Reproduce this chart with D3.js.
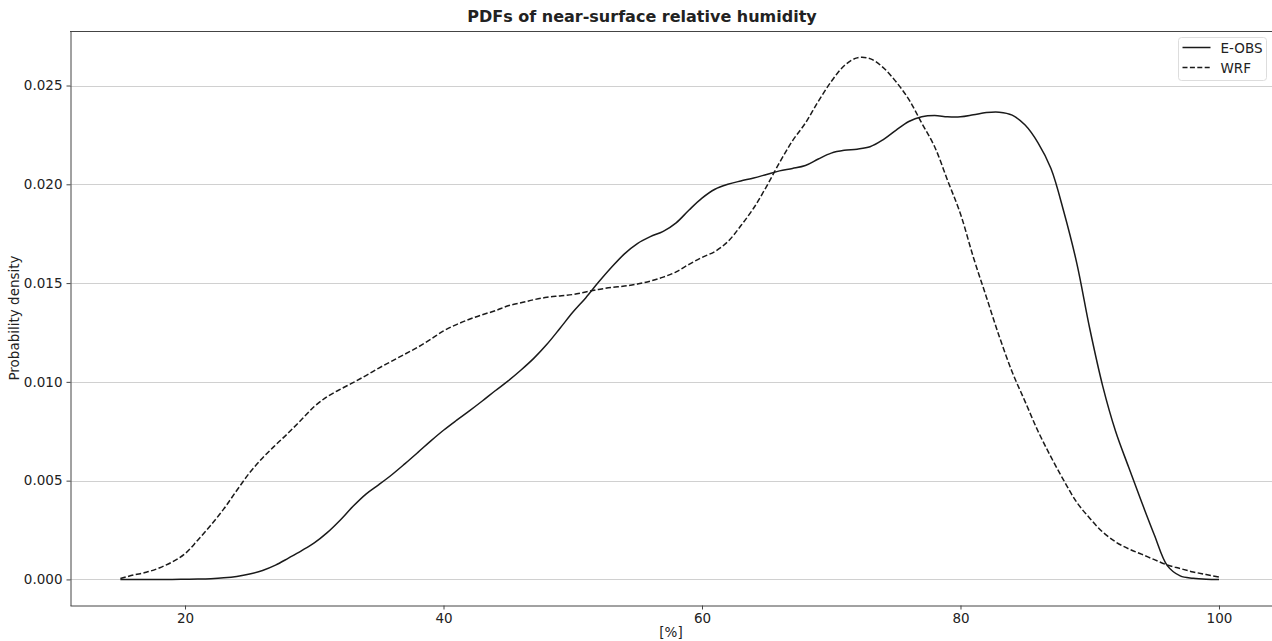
<!DOCTYPE html>
<html>
<head>
<meta charset="utf-8">
<script src="https://cdn.jsdelivr.net/npm/d3@7"></script>
<style>
  body { margin: 0; background: #fff; }
  text { font-family: "DejaVu Sans", sans-serif; fill: #222; }
</style>
</head>
<body>
<script>
// relative humidity bins [%]
var humidity = d3.range(15, 101);

var eobs = [
  0.00000, 0.00000, 0.00000, 0.00000, 0.00000, 0.00001, 0.00002, 0.00004, 0.00008, 0.00015,
  0.00027, 0.00045, 0.00072, 0.00108, 0.00145, 0.00185, 0.00237, 0.00300, 0.00370, 0.00432,
  0.00480, 0.00530, 0.00585, 0.00642, 0.00700, 0.00755, 0.00805, 0.00853, 0.00903, 0.00955,
  0.01005, 0.01060, 0.01120, 0.01190, 0.01270, 0.01352, 0.01425, 0.01505, 0.01580, 0.01648,
  0.01700, 0.01735, 0.01762, 0.01805, 0.01870, 0.01930, 0.01975, 0.02000, 0.02017, 0.02032,
  0.02050, 0.02068, 0.02080, 0.02095, 0.02128, 0.02158, 0.02172, 0.02178, 0.02190, 0.02225,
  0.02273, 0.02318, 0.02342, 0.02348, 0.02342, 0.02342, 0.02352, 0.02363, 0.02365, 0.02350,
  0.02300, 0.02210, 0.02080, 0.01860, 0.01600, 0.01270, 0.00980, 0.00750, 0.00570, 0.00394,
  0.00225, 0.00070, 0.00018, 0.00006, 0.00001, 0.00000
];

var wrf = [
  0.00005, 0.00022, 0.00036, 0.00058, 0.00088, 0.00130, 0.00200, 0.00275, 0.00357, 0.00450,
  0.00540, 0.00615, 0.00680, 0.00742, 0.00808, 0.00875, 0.00925, 0.00962, 0.00996, 0.01032,
  0.01070, 0.01105, 0.01140, 0.01175, 0.01215, 0.01258, 0.01290, 0.01317, 0.01340, 0.01360,
  0.01385, 0.01400, 0.01416, 0.01428, 0.01435, 0.01442, 0.01455, 0.01468, 0.01478, 0.01485,
  0.01495, 0.01510, 0.01530, 0.01557, 0.01595, 0.01630, 0.01660, 0.01710, 0.01790, 0.01880,
  0.01990, 0.02110, 0.02220, 0.02310, 0.02420, 0.02520, 0.02600, 0.02640, 0.02636, 0.02592,
  0.02520, 0.02430, 0.02310, 0.02190, 0.02020, 0.01850, 0.01630, 0.01430, 0.01230, 0.01050,
  0.00900, 0.00750, 0.00620, 0.00500, 0.00390, 0.00310, 0.00240, 0.00190, 0.00155, 0.00128,
  0.00100, 0.00073, 0.00055, 0.00038, 0.00025, 0.00012
];

var xTicks = [20, 40, 60, 80, 100];
var yTicks = [0.000, 0.005, 0.010, 0.015, 0.020, 0.025];
var seriesNames = ["E-OBS", "WRF"];

var width = 1272,
    height = 641;

var x = d3.scaleLinear().domain([11.1, 105]).range([70, 1283.6]);
var y = d3.scaleLinear().domain([-0.00132, 0.02776]).range([605.5, 31]);

var svg = d3.select("body").append("svg")
    .attr("width", width)
    .attr("height", height);

// grid
svg.append("g")
    .selectAll("line")
    .data(yTicks)
  .enter().append("line")
    .attr("x1", 70).attr("x2", width)
    .attr("y1", d => Math.round(y(d)) + 0.5)
    .attr("y2", d => Math.round(y(d)) + 0.5)
    .attr("stroke", "#d0d0d0")
    .attr("stroke-width", 1);

var line = d3.line()
    .x((d, i) => x(humidity[i]))
    .y(d => y(Math.max(d, 0)))
    .curve(d3.curveCatmullRom.alpha(0.5));

svg.append("path")
    .datum(eobs)
    .attr("d", line)
    .attr("fill", "none")
    .attr("stroke", "#1a1a1a")
    .attr("stroke-width", 1.5);

svg.append("path")
    .datum(wrf)
    .attr("d", line)
    .attr("fill", "none")
    .attr("stroke", "#1a1a1a")
    .attr("stroke-width", 1.5)
    .attr("stroke-dasharray", "5.5,2.4");

// axes
var xAxis = svg.append("g")
    .attr("transform", "translate(0,605.5)")
    .call(d3.axisBottom(x).tickValues(xTicks).tickSizeInner(4).tickSizeOuter(0)
      .tickPadding(4).tickFormat(d3.format("d")));

var yAxis = svg.append("g")
    .attr("transform", "translate(70.5,0)")
    .call(d3.axisLeft(y).tickValues(yTicks).tickSizeInner(4).tickSizeOuter(0)
      .tickPadding(4).tickFormat(d3.format(".3f")));

[xAxis, yAxis].forEach(function(a) {
  a.select(".domain").attr("stroke", "#444");
  a.selectAll(".tick line").attr("stroke", "#444");
  a.selectAll(".tick text")
    .style("font-family", "DejaVu Sans, sans-serif")
    .style("font-size", "13.5px")
    .attr("fill", "#222");
});

// top spine
svg.append("line")
    .attr("x1", 70).attr("x2", width)
    .attr("y1", 31.5).attr("y2", 31.5)
    .attr("stroke", "#444");

// title and labels
svg.append("text")
    .attr("x", 642).attr("y", 22)
    .attr("text-anchor", "middle")
    .style("font-size", "16px")
    .style("font-weight", "bold")
    .text("PDFs of near-surface relative humidity");

svg.append("text")
    .attr("x", 671).attr("y", 637)
    .attr("text-anchor", "middle")
    .style("font-size", "13.5px")
    .text("[%]");

svg.append("text")
    .attr("transform", "translate(19,318) rotate(-90)")
    .attr("text-anchor", "middle")
    .style("font-size", "13.5px")
    .text("Probability density");

// legend
var legend = svg.append("g").attr("transform", "translate(1178.5,37.5)");
legend.append("rect")
    .attr("width", 88).attr("height", 43)
    .attr("rx", 3)
    .attr("fill", "#fff")
    .attr("stroke", "#ddd");

var item = legend.selectAll(".item")
    .data(seriesNames)
  .enter().append("g")
    .attr("transform", (d, i) => `translate(0,${10 + i * 20})`);

item.append("line")
    .attr("x1", 4).attr("x2", 32)
    .attr("y1", 0).attr("y2", 0)
    .attr("stroke", "#1a1a1a")
    .attr("stroke-width", 1.5)
    .attr("stroke-dasharray", (d, i) => i === 1 ? "5,2.4" : null);

item.append("text")
    .attr("x", 42).attr("y", 5)
    .style("font-size", "13.5px")
    .text(d => d);
</script>
</body>
</html>
